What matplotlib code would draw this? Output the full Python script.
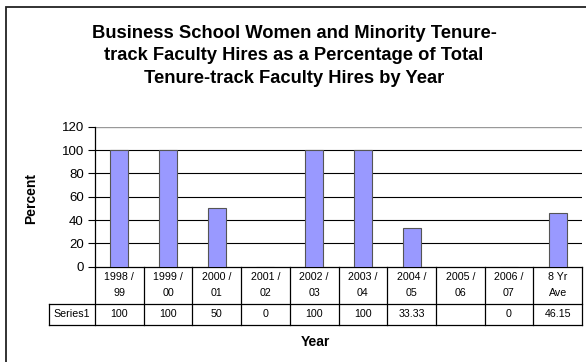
import numpy as np
import matplotlib
matplotlib.use("Agg")
from matplotlib import pyplot as plt
from matplotlib.patches import Rectangle

plt.rcParams['font.family'] = ['Liberation Sans', 'DejaVu Sans']

categories = ["1998 /\n99", "1999 /\n00", "2000 /\n01", "2001 /\n02", "2002 /\n03",
              "2003 /\n04", "2004 /\n05", "2005 /\n06", "2006 /\n07", "8 Yr\nAve"]
values = [100, 100, 50, 0, 100, 100, 33.33, None, 0, 46.15]
value_labels = ["100", "100", "50", "0", "100", "100", "33.33", "", "0", "46.15"]
series_name = "Series1"
yticks = [0, 20, 40, 60, 80, 100, 120]

W, H = 586, 362
fig = plt.figure(figsize=(W / 100, H / 100), dpi=100)

# outer chart border (only top/left visible in the crop)
fig.patches.append(Rectangle((6 / W, -0.1), 1.2, (H - 7) / H + 0.1, transform=fig.transFigure,
                             fill=False, edgecolor='#222222', linewidth=1.3))

ax = fig.add_axes([95 / W, 95.3 / H, 487 / W, 140 / H])
x = np.arange(len(categories))
heights = [np.nan if v is None else v for v in values]
ax.bar(x, heights, width=0.37, color='#9999ff', edgecolor='#555555', linewidth=0.8, zorder=3)

ax.set_xlim(-0.5, len(categories) - 0.5)
ax.set_ylim(0, 120)
ax.set_yticks(yticks)
ax.set_yticklabels([str(t) for t in yticks], fontsize=9.5)
ax.tick_params(axis='y', direction='out', length=5, width=0.8, pad=3)
ax.set_xticks([])
for t in yticks[1:-1]:
    ax.axhline(t, color='black', linewidth=0.8, zorder=1)
ax.axhline(120, color='#999999', linewidth=1.0, zorder=1)
for s in ['top', 'right']:
    ax.spines[s].set_visible(False)
ax.spines['left'].set_linewidth(0.9)
ax.spines['bottom'].set_linewidth(0.9)

# data table below the axis
row1 = -36.8 / 140
row2 = -58.6 / 140
tr = ax.get_xaxis_transform()
lw = 0.9
for i in range(len(categories) + 1):
    xe = i - 0.5
    ax.plot([xe, xe], [0, row2], transform=tr, color='black', lw=lw, clip_on=False)
x_left = -0.5 - 46 / 48.7
ax.plot([x_left, len(categories) - 0.5], [row1, row1], transform=tr, color='black', lw=lw, clip_on=False)
ax.plot([x_left, len(categories) - 0.5], [row2, row2], transform=tr, color='black', lw=lw, clip_on=False)
ax.plot([x_left, x_left], [row1, row2], transform=tr, color='black', lw=lw, clip_on=False)
for i, c in enumerate(categories):
    ax.text(i, row1 / 2, c, transform=tr, ha='center', va='center', fontsize=7.7, linespacing=1.75)
    ax.text(i, (row1 + row2) / 2, value_labels[i], transform=tr, ha='center', va='center', fontsize=7.7)
ax.text((x_left - 0.5) / 2, (row1 + row2) / 2, series_name, transform=tr, ha='center', va='center', fontsize=7.7)

fig.text(315 / W, 1 - 342 / H, "Year", ha='center', va='center', fontsize=10, fontweight='bold')
fig.text(31 / W, 1 - 199 / H, "Percent", ha='center', va='center', fontsize=10, fontweight='bold', rotation=90)
fig.text(294 / W, 1 - 56 / H,
         "Business School Women and Minority Tenure-\ntrack Faculty Hires as a Percentage of Total\nTenure-track Faculty Hires by Year",
         ha='center', va='center', fontsize=13.2, fontweight='bold', linespacing=1.4)

fig.savefig("out.png", dpi=100)
